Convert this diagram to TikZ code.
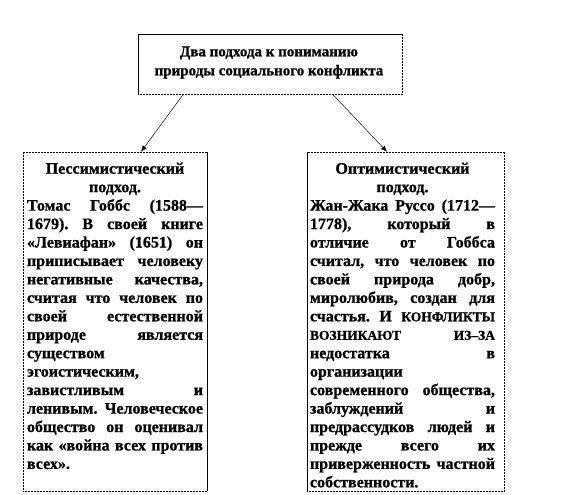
\documentclass[tikz,border=0pt]{standalone}
\usepackage{fontspec}
\setmainfont[BoldFeatures={FakeBold=1}]{Liberation Serif}
\usetikzlibrary{arrows.meta}

\begin{document}
\begin{tikzpicture}[x=1pt, y=-1pt,
    frame/.style={draw=black, densely dotted, line width=0.5pt, inner sep=0pt},
    edge/.style={draw=black, line width=0.5pt},
    boxtext/.style={font=\fontsize{16}{18.45}\selectfont\bfseries, inner sep=0pt},
    link/.style={line width=0.5pt, -{Latex[length=6pt,width=5pt]}}]

  \useasboundingbox (0,0) rectangle (576,495);

  % top box
  \node[frame, minimum width=264pt, minimum height=60pt] (approaches) at (270,64.5) {};
  \draw[edge] (approaches.south west) -- (approaches.north west) -- (approaches.north east);
  \node[boxtext, font=\fontsize{15}{19}\selectfont\bfseries, align=center] (approachestext) at (269,62.5)
    {Два подхода к пониманию\\природы социального конфликта};

  % left box
  \node[frame, minimum width=184pt, minimum height=339pt] (pess) at (115,321.5) {};
  \draw[edge] (pess.north east) -- (pess.south east);
  \node[boxtext, text width=176pt, align=justify, anchor=north] (pesstext) at (115,162.5)
    {\hyphenpenalty=10000 \tolerance=10000 \frenchspacing
     {\centering Пессимистический\\ подход.\par}
     Томас Гоббс (1588—\linebreak 1679). В своей книге\linebreak
     «Левиафан» (1651) он\linebreak приписывает человеку\linebreak
     негативные качества,\linebreak считая что человек по\linebreak
     своей естественной\linebreak природе является\linebreak
     существом\newline эгоистическим,\newline завистливым и\linebreak
     ленивым. Человеческое\linebreak общество он оценивал\linebreak
     как «война всех против\linebreak всех».};

  % right box
  \node[frame, minimum width=197pt, minimum height=339pt] (opt) at (405.5,321.5) {};
  \draw[edge] (opt.north west) -- (opt.south west);
  \node[boxtext, text width=185pt, align=justify, anchor=north] (opttext) at (402.5,162.5)
    {\hyphenpenalty=10000 \tolerance=10000 \frenchspacing
     {\centering Оптимистический\\ подход.\par}
     Жан-Жака Руссо (1712—\linebreak 1778), который в\linebreak
     отличие от Гоббса\linebreak считал, что человек по\linebreak
     своей природа добр,\linebreak миролюбив, создан для\linebreak
     счастья. И {\fontsize{13.5}{18.45}\selectfont КОНФЛИКТЫ}\linebreak
     {\fontsize{13.5}{18.45}\selectfont ВОЗНИКАЮТ ИЗ–ЗА}\linebreak
     недостатка в\linebreak организации\newline
     современного общества,\linebreak заблуждений и\linebreak
     предрассудков людей и\linebreak прежде всего их\linebreak
     приверженность частной\linebreak собственности.};

  \draw[link] ([xshift=-87pt]approaches.south) -- ([xshift=26pt]pess.north);
  \draw[link] ([xshift=63pt]approaches.south) -- ([xshift=-18.5pt]opt.north);

\end{tikzpicture}
\end{document}
